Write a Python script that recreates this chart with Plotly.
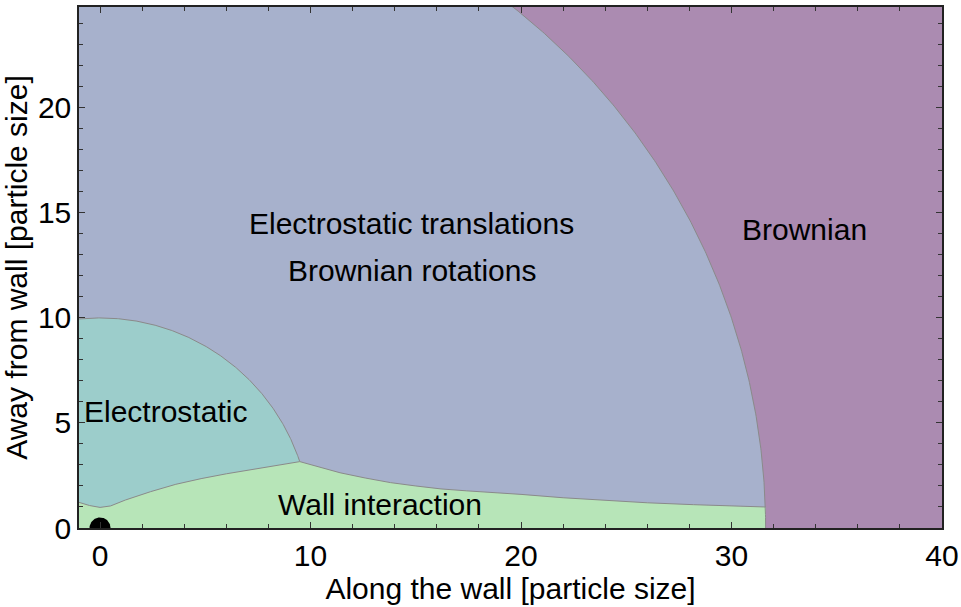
import numpy as np
import plotly.graph_objects as go

# Region boundaries (lengths in particle sizes)
brownian_radius = 31.62        # beyond this: pure Brownian motion
electrostatic_radius = 10.0    # inside this: electrostatic dominated
particle_radius = 0.5

# Upper edge of the wall-interaction zone
wall_x = [-1.0, -0.5, 0.0, 0.5, 1.2, 2.4, 3.6, 4.8, 6.0, 7.2, 8.3, 9.49,
          10.5, 11.4, 12.6, 13.8, 15.0, 16.2, 17.4, 18.5, 20.0, 22.0, 24.1,
          26.0, 28.2, 30.0, 31.62]
wall_y = [1.22, 1.07, 0.98, 1.05, 1.33, 1.73, 2.08, 2.35, 2.58, 2.79, 2.97, 3.16,
          2.88, 2.63, 2.38, 2.16, 2.0, 1.86, 1.77, 1.70, 1.60, 1.44, 1.30,
          1.20, 1.11, 1.05, 1.0]

x_range = [-1, 40]
y_range = [0, 24.8]

# Region labels
label_text = ["Electrostatic translations", "Brownian rotations", "Brownian",
              "Electrostatic", "Wall interaction"]
label_x = [14.8, 14.8, 33.45, 3.1, 13.3]
label_y = [14.5, 12.25, 14.2, 5.55, 1.1]

c_brown = "#ab8bb1"
c_trans = "#a7b1cc"
c_elec = "#9ccdcb"
c_wall = "#b7e5b8"
c_edge = "#8a8a8a"
font = "Liberation Sans, Arial, Helvetica, sans-serif"
fs = 30


def arc(radius, x_start):
    th0 = np.arccos(x_start / radius)
    th = np.linspace(th0, 0, 400)
    return radius * np.cos(th), radius * np.sin(th)


fig = go.Figure()

# Translational electrostatic zone (disk of radius brownian_radius)
bx, by = arc(brownian_radius, -1.0)
fig.add_trace(go.Scatter(x=np.r_[bx, -1.0], y=np.r_[by, 0.0], mode="lines",
                         fill="toself", fillcolor=c_trans, line=dict(width=0),
                         hoverinfo="skip", showlegend=False))

# Electrostatic zone (disk of radius electrostatic_radius)
ex, ey = arc(electrostatic_radius, -1.0)
fig.add_trace(go.Scatter(x=np.r_[ex, -1.0], y=np.r_[ey, 0.0], mode="lines",
                         fill="toself", fillcolor=c_elec, line=dict(width=0),
                         hoverinfo="skip", showlegend=False))

# Wall interaction zone
fig.add_trace(go.Scatter(x=wall_x + [brownian_radius, -1.0],
                         y=wall_y + [0.0, 0.0], mode="lines",
                         fill="toself", fillcolor=c_wall, line=dict(width=0),
                         hoverinfo="skip", showlegend=False))

# Boundary lines
fig.add_trace(go.Scatter(x=bx, y=by, mode="lines",
                         line=dict(color=c_edge, width=1),
                         hoverinfo="skip", showlegend=False))
xj = wall_x[wall_y.index(max(wall_y))]
keep = ex <= xj
fig.add_trace(go.Scatter(x=ex[keep], y=ey[keep], mode="lines",
                         line=dict(color=c_edge, width=1),
                         hoverinfo="skip", showlegend=False))
fig.add_trace(go.Scatter(x=wall_x, y=wall_y, mode="lines",
                         line=dict(color=c_edge, width=1),
                         hoverinfo="skip", showlegend=False))

# Particle sitting on the wall at the origin
t = np.linspace(0, np.pi, 60)
fig.add_trace(go.Scatter(x=particle_radius * np.cos(t), y=particle_radius * np.sin(t),
                         mode="lines", fill="toself", fillcolor="black",
                         line=dict(width=0, color="black"),
                         hoverinfo="skip", showlegend=False))

for txt, lx, ly in zip(label_text, label_x, label_y):
    fig.add_annotation(x=lx, y=ly, text=txt, showarrow=False,
                       font=dict(size=fs, color="black", family=font))

axis_common = dict(showline=True, linecolor="#222", linewidth=1.5, mirror="allticks",
                   ticks="inside", ticklen=6, tickcolor="#333", tickwidth=1,
                   showgrid=False, zeroline=False, automargin=False,
                   ticklabeloverflow="allow",
                   tickfont=dict(size=fs, color="black", family=font))

fig.update_xaxes(range=x_range, tick0=0, dtick=10,
                 minor=dict(dtick=2, ticks="inside", ticklen=4, tickcolor="#333"),
                 title=dict(text="Along the wall [particle size]",
                            font=dict(size=fs, color="black", family=font), standoff=6),
                 **axis_common)
fig.update_yaxes(range=y_range, tick0=0, dtick=5,
                 minor=dict(dtick=1, ticks="inside", ticklen=4, tickcolor="#333"),
                 title=dict(text="Away from wall [particle size]",
                            font=dict(size=fs, color="black", family=font), standoff=4),
                 **axis_common)

fig.update_layout(width=961, height=607, plot_bgcolor=c_brown, paper_bgcolor="white",
                  margin=dict(l=79, r=19, t=7, b=79))

fig.write_html("out.html")
